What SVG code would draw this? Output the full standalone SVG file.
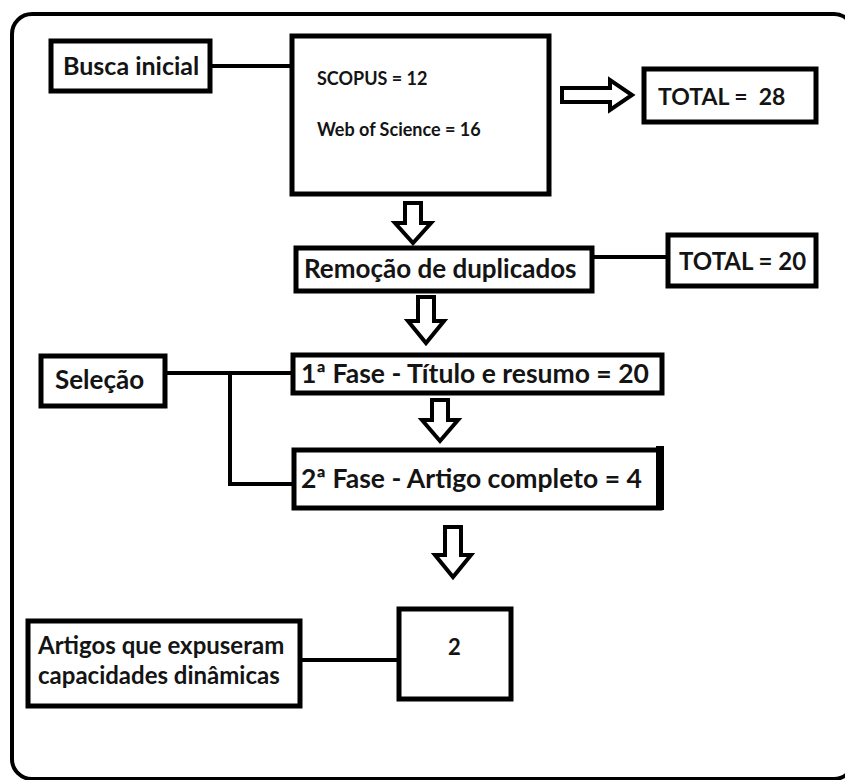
<svg xmlns="http://www.w3.org/2000/svg" width="845" height="780" viewBox="0 0 845 780">
<style>
.box{fill:#fff;stroke:#000;stroke-width:5}
.ln{fill:none;stroke:#000;stroke-width:4}
.arr{fill:#fff;stroke:#000;stroke-width:4;stroke-linejoin:miter}
text{font-family:Lato,"Open Sans","Liberation Sans",sans-serif;font-weight:bold;fill:#141414;white-space:pre}
</style>
<rect x="0" y="0" width="845" height="780" fill="#fff"/>
<rect x="12" y="14" width="842" height="765" rx="20" fill="none" stroke="#000" stroke-width="4"/>
<g id="connectors">
<path class="ln" d="M210,66 H292"/>
<path class="ln" d="M592,257 H668"/>
<path class="ln" d="M165,373 H293 M230,373 V484 H294"/>
<path class="ln" d="M300,660 H399"/>
<path class="arr" d="M405,203 H421 V223 H431 L413,243 L395,223 H405 Z"/>
<path class="arr" d="M418,297 H434 V321 H444 L426,343 L408,321 H418 Z"/>
<path class="arr" d="M432,400 H448 V420 H458 L440,441 L422,420 H432 Z"/>
<path class="arr" d="M445,527 H461 V555 H471 L453,577 L435,555 H445 Z"/>
<path class="arr" d="M562,88 H610 V80 L632,95 L610,110 V102 H562 Z"/>
</g>
<g id="busca"><rect class="box" x="51" y="41" width="159" height="50"/><text x="63" y="75" font-size="25">Busca inicial</text></g>
<g id="bases"><rect class="box" x="292" y="36" width="257" height="158"/><text x="317" y="85" font-size="18">SCOPUS = 12</text><text x="317" y="136" font-size="18">Web of Science = 16</text></g>
<g id="total28"><rect class="box" x="644" y="69" width="172" height="53"/><text x="658" y="105" font-size="23">TOTAL =  28</text></g>
<g id="remocao"><rect class="box" x="296" y="248" width="296" height="43"/><text x="304" y="278" font-size="26">Remoção de duplicados</text></g>
<g id="total20"><rect class="box" x="668" y="235" width="148" height="51"/><text x="679" y="270" font-size="24">TOTAL = 20</text></g>
<g id="selecao"><rect class="box" x="41" y="356" width="124" height="50"/><text x="55" y="389" font-size="26">Seleção</text></g>
<g id="fase1"><rect class="box" x="293" y="355" width="369" height="38"/><text x="301" y="383" font-size="26.5">1ª Fase - Título e resumo = 20</text></g>
<g id="fase2"><rect class="box" x="294" y="450" width="366" height="58"/><rect x="656" y="446" width="8" height="64" fill="#000"/><text x="301" y="488" font-size="26.5">2ª Fase - Artigo completo = 4</text></g>
<g id="artigos"><rect class="box" x="28" y="621" width="272" height="85"/><text x="38" y="654" font-size="24">Artigos que expuseram</text><text x="38" y="684" font-size="24">capacidades dinâmicas</text></g>
<g id="dois"><rect class="box" x="399" y="609" width="112" height="90"/><text x="448" y="655" font-size="22">2</text></g>
</svg>
